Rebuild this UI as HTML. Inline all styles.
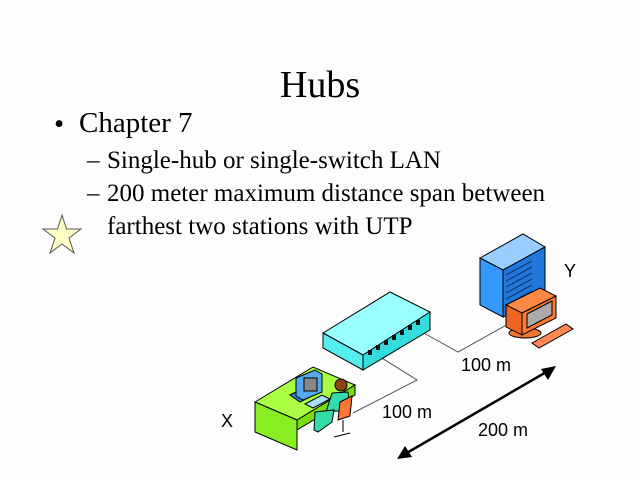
<!DOCTYPE html>
<html><head><style>
body{margin:0;width:640px;height:480px;background:#fdfdfd;overflow:hidden;position:relative;font-family:"Liberation Serif",serif;color:#000}
.t{position:absolute;white-space:nowrap;line-height:1}
</style></head><body>
<div class="t" style="left:0;width:640px;text-align:center;top:66px;font-size:38px">Hubs</div>
<div class="t" style="left:54px;top:110px;font-size:29px">•</div>
<div class="t" style="left:79px;top:109px;font-size:29px">Chapter 7</div>
<div class="t" style="left:87px;top:148px;font-size:25px">–</div>
<div class="t" style="left:107px;top:148px;font-size:25px">Single-hub or single-switch LAN</div>
<div class="t" style="left:87px;top:181px;font-size:25px">–</div>
<div class="t" style="left:107px;top:181px;font-size:25px">200 meter maximum distance span between</div>
<div class="t" style="left:107px;top:214px;font-size:25px">farthest two stations with UTP</div>
<svg width="640" height="480" style="position:absolute;left:0;top:0" font-family="Liberation Sans, sans-serif">
<polygon points="62,215 66.5,229 81,229 69,238 74,253 62,244 50,253 55,238 43,229 57.5,229" fill="#ffffc8" stroke="#555" stroke-width="1"/>
<polyline points="377,355 417,380 353,413" fill="none" stroke="#555" stroke-width="1"/>
<polyline points="422,332 458,352 510,323" fill="none" stroke="#555" stroke-width="1"/>
<polygon points="323,333 390,292 430,312 363,355" fill="#99ffff" stroke="#000"/>
<polygon points="363,355 430,312 430,330 363,370" fill="#33dddd" stroke="#000"/>
<polygon points="323,333 363,355 363,370 323,348" fill="#55eeee" stroke="#000"/>
<g fill="#111"><rect x="368" y="350" width="4" height="5"/><rect x="376" y="345" width="4" height="5"/><rect x="384" y="340" width="4" height="5"/><rect x="392" y="335" width="4" height="5"/><rect x="400" y="330" width="4" height="5"/><rect x="408" y="325" width="4" height="5"/><rect x="416" y="320" width="4" height="5"/></g>
<polygon points="480,258 523,234 545,247 503,270" fill="#99ccff" stroke="#000"/>
<polygon points="480,258 503,270 503,317 480,305" fill="#3399ff" stroke="#000"/>
<polygon points="503,270 545,247 545,300 503,317" fill="#2277dd" stroke="#000"/>
<g stroke="#113366" stroke-width="1"><line x1="506" y1="275" x2="532" y2="261"/><line x1="506" y1="281" x2="532" y2="267"/><line x1="506" y1="287" x2="532" y2="273"/><line x1="506" y1="293" x2="532" y2="279"/><line x1="506" y1="299" x2="532" y2="285"/><line x1="506" y1="305" x2="532" y2="291"/></g>
<ellipse cx="525" cy="333" rx="16" ry="5" fill="#ee7733" stroke="#000"/>
<polygon points="506,305 540,288 556,296 522,313" fill="#ff8844" stroke="#000"/>
<polygon points="506,305 522,313 522,335 506,327" fill="#ee6622" stroke="#000"/>
<polygon points="522,313 556,296 556,318 522,335" fill="#ff7733" stroke="#000"/>
<polygon points="527,314 552,301 552,315 527,328" fill="#aaaaaa" stroke="#000"/>
<polygon points="532,343 566,324 573,329 539,348" fill="#ff8855" stroke="#000"/>
<polygon points="255,402 313,367 355,385 297,420" fill="#aaff44" stroke="#000"/>
<polygon points="255,402 297,420 297,450 255,432" fill="#88ee22" stroke="#000"/>
<polygon points="297,420 355,385 355,395 297,430" fill="#77dd11" stroke="#000"/>
<polygon points="290,395 310,385 320,392 300,402" fill="#3388cc" stroke="#000"/>
<polygon points="296,378 315,370 322,374 322,392 303,400 296,396" fill="#55aaee" stroke="#000"/>
<rect x="304" y="378" width="13" height="13" fill="#888" stroke="#000"/>
<polygon points="305,404 322,395 330,399 313,408" fill="#aaddff" stroke="#000"/>
<circle cx="341" cy="385" r="6" fill="#8b4513" stroke="#000"/>
<polygon points="332,393 348,392 350,410 326,412" fill="#33ddaa" stroke="#000"/>
<polygon points="315,412 334,410 332,422 318,432 314,430" fill="#33ddaa" stroke="#000"/>
<polygon points="340,402 352,396 350,416 338,420" fill="#ff7733" stroke="#000"/>
<line x1="343" y1="420" x2="343" y2="432" stroke="#000"/>
<line x1="334" y1="437" x2="350" y2="433" stroke="#000"/>
<line x1="405" y1="454" x2="548" y2="371" stroke="#000" stroke-width="2.5"/>
<polygon points="556,366 541,369 548,380" fill="#000"/>
<polygon points="397,459 405,446 412,457" fill="#000"/>
<g font-size="18"><text x="461" y="371">100 m</text><text x="382" y="418">100 m</text><text x="478" y="436">200 m</text><text x="221" y="427">X</text><text x="564" y="277">Y</text></g>
</svg>
</body></html>
